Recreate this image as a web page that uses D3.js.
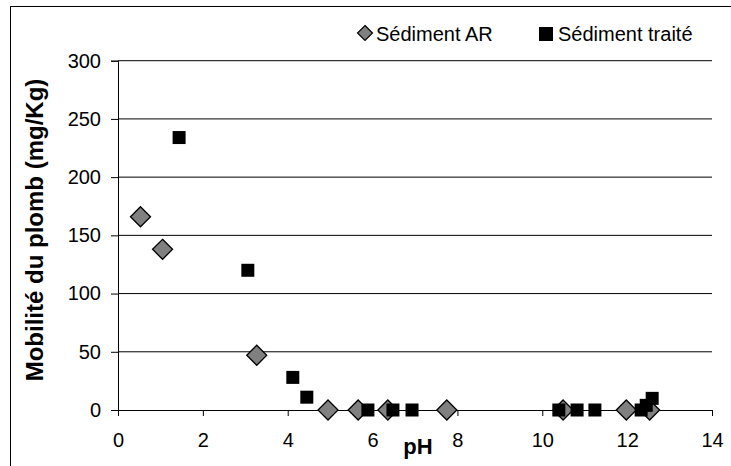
<!DOCTYPE html>
<html><head><meta charset="utf-8">
<script src="https://cdn.jsdelivr.net/npm/d3@7"></script>
<style>body{margin:0;background:#fff}svg{display:block}text{font-family:"Liberation Sans",Arial,sans-serif}</style>
</head><body>
<script>
const arPH    = [0.53, 1.05, 3.27, 4.95, 5.66, 6.36, 7.75, 10.49, 11.98, 12.53];
const arVal   = [166, 138, 47, 0, 0, 0, 0, 0, 0, 0];
const trPH    = [1.44, 3.06, 4.12, 4.45, 5.89, 6.48, 6.93, 10.39, 10.82, 11.24, 12.33, 12.45, 12.59];
const trVal   = [234, 120, 28, 11, 0, 0, 0, 0, 0, 0, 0, 4, 10];
const xTicks  = [0, 2, 4, 6, 8, 10, 12, 14];
const yTicks  = [0, 50, 100, 150, 200, 250, 300];
const seriesNames = ["Sédiment AR", "Sédiment traité"];

const W = 731, H = 466;
const svg = d3.select("body").append("svg").attr("width", W).attr("height", H);
svg.append("rect").attr("x", 10.5).attr("y", 6.5).attr("width", 740).attr("height", 480)
  .attr("fill", "#fff").attr("stroke", "#000").attr("stroke-width", 1);

const x = d3.scaleLinear().domain([0, 14]).range([118, 712]);
const y = d3.scaleLinear().domain([0, 300]).range([410, 60.7]);

// gridlines
svg.append("g").selectAll("line").data(yTicks.filter(d => d > 0)).join("line")
  .attr("x1", x(0)).attr("x2", x(14)).attr("y1", d => y(d)).attr("y2", d => y(d))
  .attr("stroke", "#000").attr("stroke-width", 1);

const yAxis = svg.append("g").attr("transform", `translate(${x(0)},0)`)
  .call(d3.axisLeft(y).tickValues(yTicks).tickSize(7).tickPadding(10));
yAxis.select(".domain").attr("stroke", "#000");
yAxis.selectAll("text").attr("font-size", 20).attr("fill", "#000").attr("font-family", "Liberation Sans, Arial, sans-serif");

const xAxis = svg.append("g").attr("transform", `translate(0,${y(0)})`)
  .call(d3.axisBottom(x).tickValues(xTicks).tickSize(6).tickPadding(17));
xAxis.select(".domain").attr("stroke", "#000");
xAxis.selectAll("text").attr("font-size", 20).attr("fill", "#000").attr("font-family", "Liberation Sans, Arial, sans-serif");

svg.append("text").attr("transform", "translate(43,230) rotate(-90)").attr("text-anchor", "middle")
  .attr("font-size", 24).attr("font-weight", "bold").text("Mobilité du plomb (mg/Kg)");
svg.append("text").attr("x", 418).attr("y", 454).attr("text-anchor", "middle")
  .attr("font-size", 22).attr("font-weight", "bold").text("pH");

const diamond = r => `M0,${-r}L${r},0L0,${r}L${-r},0Z`;

svg.append("g").selectAll("path").data(arPH.map((p, i) => [p, arVal[i]])).join("path")
  .attr("transform", d => `translate(${x(d[0])},${y(d[1])})`)
  .attr("d", diamond(10)).attr("fill", "#808080").attr("stroke", "#000").attr("stroke-width", 1.3);

svg.append("g").selectAll("rect").data(trPH.map((p, i) => [p, trVal[i]])).join("rect")
  .attr("x", d => x(d[0]) - 6.5).attr("y", d => y(d[1]) - 6.5).attr("width", 13).attr("height", 13)
  .attr("fill", "#000");

// legend
const lg = svg.append("g");
lg.append("path").attr("transform", "translate(365,33)").attr("d", diamond(7.5))
  .attr("fill", "#808080").attr("stroke", "#000").attr("stroke-width", 1.2);
lg.append("text").attr("x", 376).attr("y", 41).attr("font-size", 20).text(seriesNames[0]);
lg.append("rect").attr("x", 539).attr("y", 27).attr("width", 14).attr("height", 14).attr("fill", "#000");
lg.append("text").attr("x", 558).attr("y", 41).attr("font-size", 20).text(seriesNames[1]);
</script>
</body></html>
